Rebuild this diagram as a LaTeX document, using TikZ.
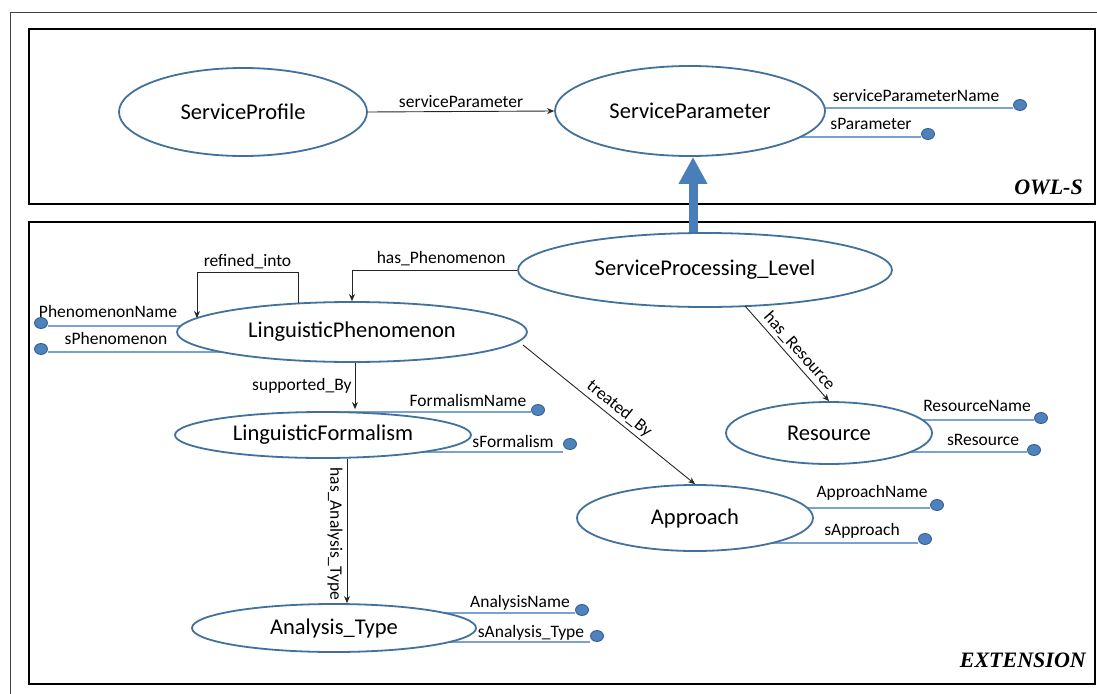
\documentclass[tikz,border=0pt]{standalone}
\usepackage{fontspec}
\setmainfont{Carlito}
\newfontfamily\titlefont{Liberation Serif}
\usetikzlibrary{shapes.geometric,arrows.meta,calc,backgrounds}
\definecolor{ellc}{HTML}{41719C}
\definecolor{attrc}{HTML}{7BA0D4}
\definecolor{dotc}{HTML}{4F81BD}
\definecolor{dotd}{HTML}{2E5A8E}
\definecolor{bigarr}{HTML}{4A7EBB}
\begin{document}
\begin{tikzpicture}[x=1pt,y=-1pt,
 cls/.style={ellipse,draw=ellc,line width=1.8pt,fill=white,inner sep=0pt,font=\fontsize{22.5}{25}\selectfont},
 dotn/.style={ellipse,draw=dotd,fill=dotc,line width=0.8pt,minimum width=13pt,minimum height=11pt,inner sep=0pt},
 attr/.style={draw=attrc,line width=1.3pt},
 lbl/.style={font=\fontsize{17.5}{19}\selectfont,inner sep=1pt},
 rel/.style={draw=black!85,line width=0.9pt,-{Stealth[length=7pt,width=6pt]}},
 frame/.style={draw=black,line width=2.2pt},
 tag/.style={font=\titlefont\bfseries\itshape\fontsize{22}{24}\selectfont,anchor=east,inner sep=0pt}
]
\useasboundingbox (0,0) rectangle (1097,693);
\begin{scope}
\clip (0,0) rectangle (1097,693);
\draw[black!75,line width=0.9pt] (10,12) rectangle (1110,710);
\end{scope}
% frames
\draw[frame] (29,29) rectangle (1095,204);
\draw[frame] (29,222) rectangle (1095,684);
\node[tag] (owls) at (1083,187) {OWL-S};
\node[tag] (ext) at (1086,660) {EXTENSION};

% classes
\node[cls,minimum width=248pt,minimum height=88pt] (SPr) at (243,112) {ServiceProfile};
\node[cls,minimum width=270pt,minimum height=90pt] (SPa) at (690,111) {ServiceParameter};
\node[cls,minimum width=374pt,minimum height=74pt] (SPL) at (705,270) {ServiceProcessing\_Level};
\node[cls,minimum width=350pt,minimum height=60pt] (LP) at (352,332) {LinguisticPhenomenon};
\node[cls,minimum width=296pt,minimum height=46pt] (LF) at (323,435) {LinguisticFormalism};
\node[cls,minimum width=284pt,minimum height=48pt] (AT) at (334,628) {Analysis\_Type};
\node[cls,minimum width=206pt,minimum height=62pt] (Res) at (829,433) {Resource};
\node[cls,minimum width=236pt,minimum height=66pt] (App) at (695,518) {Approach};

% attribute dots
\node[dotn] (d1) at (1020,105) {};
\node[dotn] (d2) at (928,134) {};
\node[dotn] (d3) at (41,323) {};
\node[dotn] (d4) at (41,349) {};
\node[dotn] (d5) at (538,410) {};
\node[dotn] (d6) at (570,444) {};
\node[dotn] (d7) at (1041,418) {};
\node[dotn] (d8) at (1034,450) {};
\node[dotn] (d9) at (937,505) {};
\node[dotn] (d10) at (925,539) {};
\node[dotn] (d11) at (582,610) {};
\node[dotn] (d12) at (597,636) {};

\begin{pgfonlayer}{background}
\draw[attr] ($(d1.west)+(0,3)$) -- ($(d1.west -| SPa.center)+(0,3)$);
\draw[attr] ($(d2.west)+(0,3)$) -- ($(d2.west -| SPa.center)+(0,3)$);
\draw[attr] ($(d3.east)+(0,3)$) -- ($(d3.east -| LP.center)+(0,3)$);
\draw[attr] ($(d4.east)+(0,3)$) -- ($(d4.east -| LP.center)+(0,3)$);
\draw[attr] ($(d5.west)+(0,2)$) -- ($(d5.west -| LF.center)+(0,2)$);
\draw[attr] ($(d6.west)+(0,8)$) -- ($(d6.west -| LF.center)+(0,8)$);
\draw[attr] ($(d7.west)+(0,2)$) -- ($(d7.west -| Res.center)+(0,2)$);
\draw[attr] ($(d8.west)+(0,2)$) -- ($(d8.west -| Res.center)+(0,2)$);
\draw[attr] ($(d9.west)+(0,3)$) -- ($(d9.west -| App.center)+(0,3)$);
\draw[attr] ($(d10.west)+(0,4)$) -- ($(d10.west -| App.center)+(0,4)$);
\draw[attr] ($(d11.west)+(0,3)$) -- ($(d11.west -| AT.center)+(0,3)$);
\draw[attr] ($(d12.west)+(0,6)$) -- ($(d12.west -| AT.center)+(0,6)$);
\end{pgfonlayer}

% attribute labels
\node[lbl] (l1) at (916,96) {serviceParameterName};
\node[lbl] (l2) at (871,124) {sParameter};
\node[lbl] (l3) at (108,311) {PhenomenonName};
\node[lbl] (l4) at (116,338) {sPhenomenon};
\node[lbl] (l5) at (468,400) {FormalismName};
\node[lbl] (l6) at (513,441) {sFormalism};
\node[lbl] (l7) at (977,406) {ResourceName};
\node[lbl] (l8) at (983,440) {sResource};
\node[lbl] (l9) at (872,493) {ApproachName};
\node[lbl] (l10) at (862,531) {sApproach};
\node[lbl] (l11) at (520,603) {AnalysisName};
\node[lbl] (l12) at (531,633) {sAnalysis\_Type};

% relations
\draw[rel] (SPr.east) -- node[lbl,above=2pt] {serviceParameter} (SPa.west);
\coordinate (bigtop) at ($(SPa.south)+(3,0)$);
\draw[bigarr,line width=9pt,-{Triangle[length=27pt,width=27pt]}] (bigtop |- SPL.north) -- (bigtop);
\draw[rel] (SPL.west) -| node[lbl,above=3pt,pos=0.23] {has\_Phenomenon} (LP.north);
\coordinate (rs) at ($(LP.north)+(-54,2)$);
\coordinate (re) at ($(LP.center)+(-155,-14)$);
\draw[rel] (rs) |- ($(re)+(0,-46)$) node[lbl,above=2pt,pos=0.75] {refined\_into} -- (re);
\draw[rel] ($(LP.south)+(3,0)$) -- node[lbl,left=2pt,pos=0.5] {supported\_By} ($(LF.north)+(32,-2)$);
\draw[rel] ($(LF.south)+(24,0)$) -- node[lbl,rotate=-90,anchor=north,yshift=-3pt,pos=0.52] {has\_Analysis\_Type} ($(AT.north)+(13,0)$);
\coordinate (ts) at ($(LP.center)+(171,13)$);
\draw[rel] (ts) -- node[lbl,sloped,above=2pt,pos=0.52] {treated\_By} (App.north);
\coordinate (hs) at ($(SPL.center)+(40,36)$);
\draw[rel] (hs) -- node[lbl,sloped,above=2pt,pos=0.55] {has\_Resource} (Res.north);
\end{tikzpicture}
\end{document}
